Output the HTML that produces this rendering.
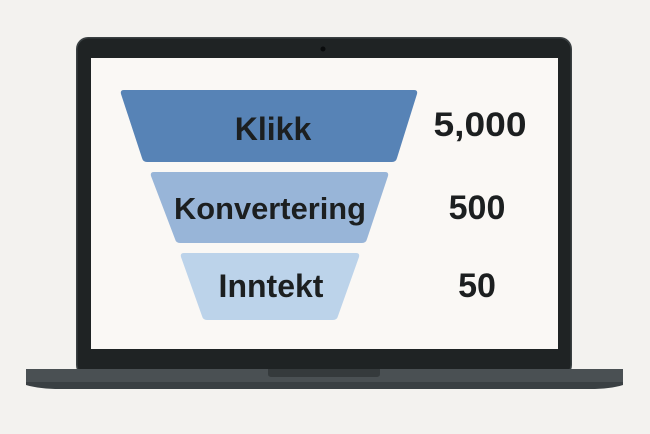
<!DOCTYPE html>
<html><head><meta charset="utf-8"><style>
html,body{margin:0;padding:0;background:#f3f2ef;}
svg{display:block}
text{font-family:"Liberation Sans",sans-serif;font-weight:bold;fill:#1c1f20;text-anchor:middle}
</style></head><body>
<svg width="650" height="434" viewBox="0 0 650 434">
<rect width="650" height="434" fill="#f3f2ef"/>
<rect x="76" y="37" width="496" height="340" rx="12" fill="#3a4042"/>
<rect x="77.5" y="38.5" width="493" height="337" rx="11" fill="#1f2324"/>
<circle cx="323" cy="49" r="2.5" fill="#0a0c0d"/>
<rect x="91" y="58" width="467" height="291" fill="#faf8f5"/>
<path d="M26 369 H623 V385 Q610 389 590 389 H60 Q40 389 26 385 Z" fill="#3a4043"/>
<rect x="26" y="369" width="597" height="13" fill="#4a5053"/>
<path d="M268 369 H380 V374 Q380 377 376 377 H272 Q268 377 268 374 Z" fill="#353a3c"/>
<path d="M124 90 H414 Q418 90 417 94 L397 158 Q396 162 392 162 H147 Q143 162 142 158 L121 94 Q120 90 124 90 Z" fill="#5783b6"/>
<path d="M154 172 H385 Q389 172 388 176 L367 239 Q366 243 362 243 H180 Q176 243 175 239 L151 176 Q150 172 154 172 Z" fill="#98b5d8"/>
<path d="M184 253 H356 Q360 253 359 257 L338 316 Q337 320 333 320 H207 Q203 320 202 316 L181 257 Q180 253 184 253 Z" fill="#bcd3ea"/>
<text x="273" y="140" font-size="32">Klikk</text>
<text x="270" y="219" font-size="31" textLength="192" lengthAdjust="spacingAndGlyphs">Konvertering</text>
<text x="271" y="297" font-size="32">Inntekt</text>
<text x="480" y="136" font-size="34" textLength="93" lengthAdjust="spacingAndGlyphs">5,000</text>
<text x="477" y="219" font-size="34">500</text>
<text x="477" y="297" font-size="34">50</text>
</svg>
</body></html>
